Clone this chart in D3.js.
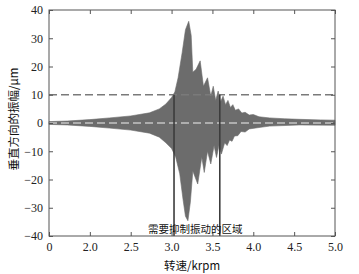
<!DOCTYPE html>
<html lang="zh">
<head>
<meta charset="UTF-8">
<title>垂直方向的振幅</title>
<script src="https://d3js.org/d3.v7.min.js"></script>
<style>
  body { margin: 0; background: #fff; }
  svg { display: block; }
  .tick text { font-family: "Liberation Serif", "DejaVu Serif", serif; }
</style>
</head>
<body>
<div id="chart"></div>
<script>
// tick labels (x axis ticks are evenly spaced, not to scale)
const xTicks = [0, 2.0, 2.5, 3.0, 3.5, 4.0, 4.5, 5.0];
const yTicks = [-40, -30, -20, -10, 0, 10, 20, 30, 40];

// envelope of the vibration signal (krpm, μm)
const upperX = [0, 0.9, 2.0, 2.24, 2.5, 2.73, 2.85, 2.93, 3.0, 3.04, 3.08, 3.13, 3.17, 3.21, 3.24, 3.26, 3.3, 3.35, 3.39, 3.44, 3.48, 3.51, 3.54, 3.57, 3.6, 3.63, 3.66, 3.69, 3.72, 3.75, 3.78, 3.82, 3.86, 3.9, 3.95, 4.0, 4.07, 4.2, 4.38, 4.56, 4.82, 5.0];
const upperY = [0.5, 0.7, 1.2, 1.8, 2.5, 3.6, 5, 6.7, 9, 11, 16, 25, 33, 36, 31, 18, 19, 22, 13, 16, 9.5, 13, 8, 11.3, 7.5, 9.5, 6.5, 8, 5.5, 6.5, 4.5, 5, 3.5, 3.8, 2.8, 3, 2.2, 1.8, 1.5, 1.3, 1.1, 1.0];
const lowerX = [0, 0.9, 2.0, 2.24, 2.5, 2.73, 2.85, 2.93, 3.0, 3.05, 3.1, 3.14, 3.17, 3.2, 3.23, 3.26, 3.32, 3.37, 3.4, 3.44, 3.48, 3.52, 3.55, 3.58, 3.61, 3.65, 3.68, 3.71, 3.74, 3.77, 3.81, 3.85, 3.9, 3.95, 4.07, 4.2, 4.56, 5.0];
const lowerY = [-0.5, -0.7, -1.2, -1.8, -2.5, -3.6, -5, -7, -9, -12, -18, -27, -33, -34.6, -28, -17, -21.6, -12, -17.5, -10, -14.5, -8, -12.2, -8, -11, -7, -8, -6, -6.5, -4.6, -4.5, -3, -3.2, -2.1, -1.6, -1.1, -0.7, -0.8];

const limitLevels = [10];          // dashed threshold line
const zeroLevel = [0];             // light dashed zero line
const regionBounds = [3.03, 3.59]; // vertical lines marking the region
const regionLabel = "需要抑制振动的区域";

const width = 359, height = 274;
const margin = { top: 10, right: 24, bottom: 38, left: 49 };
const plotW = width - margin.left - margin.right;
const plotH = height - margin.top - margin.bottom;

const svg = d3.select("#chart").append("svg")
  .attr("width", width)
  .attr("height", height);

const g = svg.append("g")
  .attr("transform", `translate(${margin.left},${margin.top})`);

const x = d3.scaleLinear()
  .domain(xTicks)
  .range(xTicks.map((d, i) => i * plotW / (xTicks.length - 1)));

const y = d3.scaleLinear()
  .domain([-40, 40])
  .range([plotH, 0]);

// band between upper and lower envelope
const upper = upperX.map((d, i) => [x(d), y(upperY[i])]);
const lower = lowerX.map((d, i) => [x(d), y(lowerY[i])]).reverse();
g.append("path")
  .attr("d", d3.line()(upper.concat(lower)) + "Z")
  .attr("fill", "#6c6c6c")
  .attr("stroke", "#6c6c6c")
  .attr("stroke-width", 0.6);

// zero line
g.selectAll(".zero")
  .data(zeroLevel)
  .join("line")
  .attr("x1", 0).attr("x2", plotW)
  .attr("y1", d => y(d)).attr("y2", d => y(d))
  .attr("stroke", "#c4c4c4")
  .attr("stroke-width", 1.5)
  .attr("stroke-dasharray", "8,4");

// threshold line
g.selectAll(".limit")
  .data(limitLevels)
  .join("line")
  .attr("x1", 0).attr("x2", plotW)
  .attr("y1", d => y(d)).attr("y2", d => y(d))
  .attr("stroke", "#7a7a7a")
  .attr("stroke-width", 1.6)
  .attr("stroke-dasharray", "8,4");

// region bounds
g.selectAll(".bound")
  .data(regionBounds)
  .join("line")
  .attr("x1", d => x(d)).attr("x2", d => x(d))
  .attr("y1", y(-40)).attr("y2", y(limitLevels[0]))
  .attr("stroke", "#3c3c3c")
  .attr("stroke-width", 1.6);

// frame
g.append("rect")
  .attr("width", plotW)
  .attr("height", plotH)
  .attr("fill", "none")
  .attr("stroke", "#555")
  .attr("stroke-width", 1);

// axes with inward ticks
const xAxis = g.append("g")
  .attr("transform", `translate(0,${plotH})`)
  .call(d3.axisBottom(x).tickValues(xTicks).tickSizeInner(-4).tickSizeOuter(0).tickPadding(6)
    .tickFormat(d => d === 0 ? "0" : d3.format(".1f")(d)));
const xTop = g.append("g")
  .call(d3.axisTop(x).tickValues(xTicks).tickSizeInner(-4).tickSizeOuter(0).tickFormat(""));
const yAxis = g.append("g")
  .call(d3.axisLeft(y).tickValues(yTicks).tickSizeInner(-4).tickSizeOuter(0).tickPadding(6)
    .tickFormat(d => d < 0 ? "\u2212" + Math.abs(d) : String(d)));
const yRight = g.append("g")
  .attr("transform", `translate(${plotW},0)`)
  .call(d3.axisRight(y).tickValues(yTicks).tickSizeInner(-4).tickSizeOuter(0).tickFormat(""));

[xAxis, xTop, yAxis, yRight].forEach(a => {
  a.attr("font-family", null).attr("font-size", null);
  a.select(".domain").remove();
  a.selectAll(".tick line").attr("stroke", "#555");
  a.selectAll("text")
    .style("font-size", "12px")
    .attr("fill", "#222");
});

// region label
g.append("text")
  .attr("x", x(3.29))
  .attr("y", plotH - 3)
  .attr("text-anchor", "middle")
  .attr("font-family", "'Noto Sans CJK SC', sans-serif")
  .attr("font-size", 10.5)
  .attr("fill", "#111")
  .text(regionLabel);

// axis titles
svg.append("text")
  .attr("x", margin.left + x(3.25))
  .attr("y", 270)
  .attr("text-anchor", "middle")
  .attr("font-family", "'Noto Sans CJK SC', sans-serif")
  .attr("font-size", 11.5)
  .attr("fill", "#111")
  .text("转速/krpm");

svg.append("text")
  .attr("transform", `translate(18,${margin.top + y(0) - 4}) rotate(-90)`)
  .attr("text-anchor", "middle")
  .attr("font-family", "'Noto Sans CJK SC', sans-serif")
  .attr("font-size", 11.5)
  .attr("fill", "#111")
  .text("垂直方向的振幅/μm");
</script>
</body>
</html>
